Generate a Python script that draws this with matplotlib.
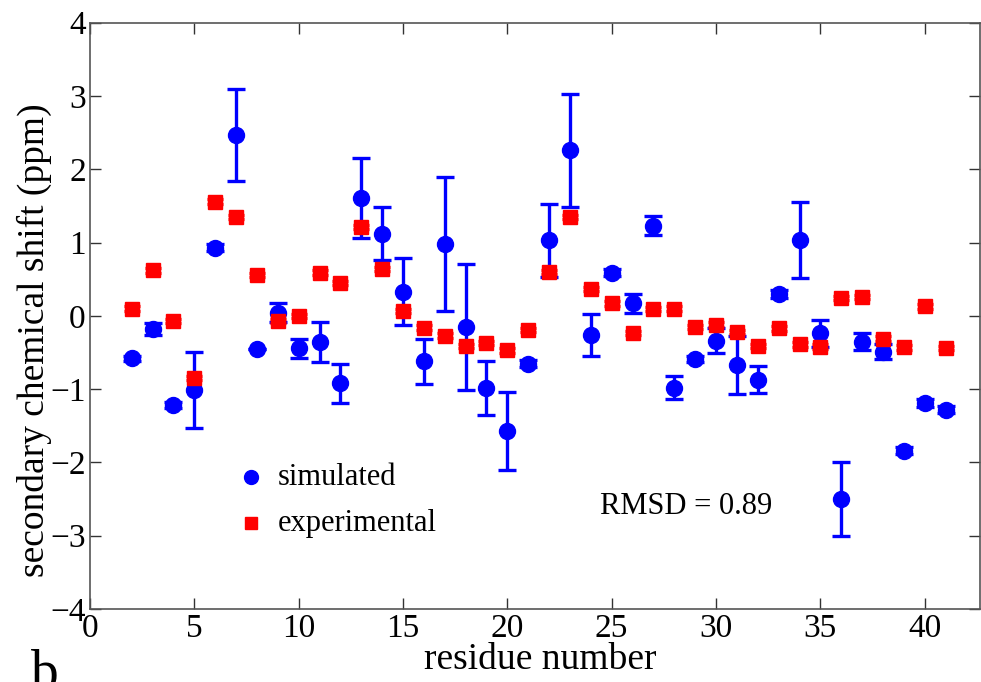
import numpy as np
import matplotlib
matplotlib.use("Agg")
import matplotlib.pyplot as plt

# =========================================================
# DATA
# =========================================================
residues = list(range(2, 42))

sim_shift = [-0.58, -0.18, -1.22, -1.01, 0.93, 2.47, -0.45, 0.04, -0.44, -0.36,
             -0.92, 1.61, 1.12, 0.33, -0.62, 0.98, -0.15, -0.98, -1.57, -0.65,
             1.03, 2.26, -0.26, 0.59, 0.17, 1.23, -0.98, -0.59, -0.34, -0.67,
             -0.87, 0.30, 1.03, -0.24, -2.50, -0.35, -0.49, -1.84, -1.19, -1.28]
sim_err   = [0.03, 0.08, 0.04, 0.52, 0.05, 0.63, 0.00, 0.13, 0.13, 0.27,
             0.27, 0.55, 0.36, 0.46, 0.31, 0.92, 0.86, 0.37, 0.53, 0.05,
             0.50, 0.77, 0.29, 0.05, 0.13, 0.13, 0.16, 0.04, 0.17, 0.39,
             0.18, 0.05, 0.52, 0.18, 0.50, 0.12, 0.10, 0.05, 0.05, 0.05]

exp_shift = [0.10, 0.62, -0.07, -0.85, 1.56, 1.35, 0.56, -0.07, 0.00, 0.59,
             0.45, 1.21, 0.64, 0.07, -0.16, -0.27, -0.41, -0.37, -0.47, -0.19,
             0.60, 1.35, 0.37, 0.17, -0.23, 0.09, 0.10, -0.15, -0.12, -0.22,
             -0.41, -0.17, -0.39, -0.42, 0.24, 0.26, -0.31, -0.43, 0.13, -0.44]
exp_err   = [0.03] * len(residues)

x_ticks = [0, 5, 10, 15, 20, 25, 30, 35, 40]
y_ticks = [-4, -3, -2, -1, 0, 1, 2, 3, 4]

# =========================================================
# PLOT
# =========================================================
plt.rcParams["font.family"] = ["Liberation Serif", "DejaVu Serif"]

fig = plt.figure(figsize=(9.81, 6.82), dpi=100)
ax = fig.add_axes([0.0917, 0.107, 0.9073, 0.8597])

ax.errorbar(residues, sim_shift, yerr=sim_err, fmt="o", color="#0000ff",
            ms=11.5, elinewidth=2.4, capsize=6.5, capthick=2.4, zorder=2)
ax.errorbar(residues, exp_shift, yerr=exp_err, fmt="s", color="#ff0000",
            ms=10, elinewidth=2.4, capsize=6, capthick=2.4, zorder=3)

# legend drawn by hand (no frame)
ax.plot([7.7], [-2.2], "o", color="#0000ff", ms=10)
ax.text(9.0, -2.2, "simulated", fontsize=22, va="center")
ax.plot([7.7], [-2.83], "s", color="#ff0000", ms=8)
ax.text(9.0, -2.83, "experimental", fontsize=22, va="center")

ax.text(24.45, -2.6, "RMSD = 0.89", fontsize=22, va="center")

ax.set_xlim(0, 42.65)
ax.set_ylim(-4, 4)
ax.set_xticks(x_ticks)
ax.set_yticks(y_ticks)
ax.set_yticklabels([f"{t}" if t >= 0 else f"\u2212{-t}" for t in y_ticks])

ax.tick_params(direction="in", top=True, right=True, length=8, width=1,
               labelsize=24, color="#333333", pad=3)
for sp in ax.spines.values():
    sp.set_color("#555555")
    sp.set_linewidth(1.2)

ax.set_xlabel("residue number", fontsize=27, va="center")
ax.xaxis.set_label_coords(0.506, -0.087)
ax.set_ylabel("secondary chemical shift (ppm)", fontsize=27, va="center")
ax.yaxis.set_label_coords(-0.063, 0.459)

fig.text(0.032, -0.01, "b", fontsize=40, ha="left", va="baseline")

fig.savefig("out.png", dpi=100)
